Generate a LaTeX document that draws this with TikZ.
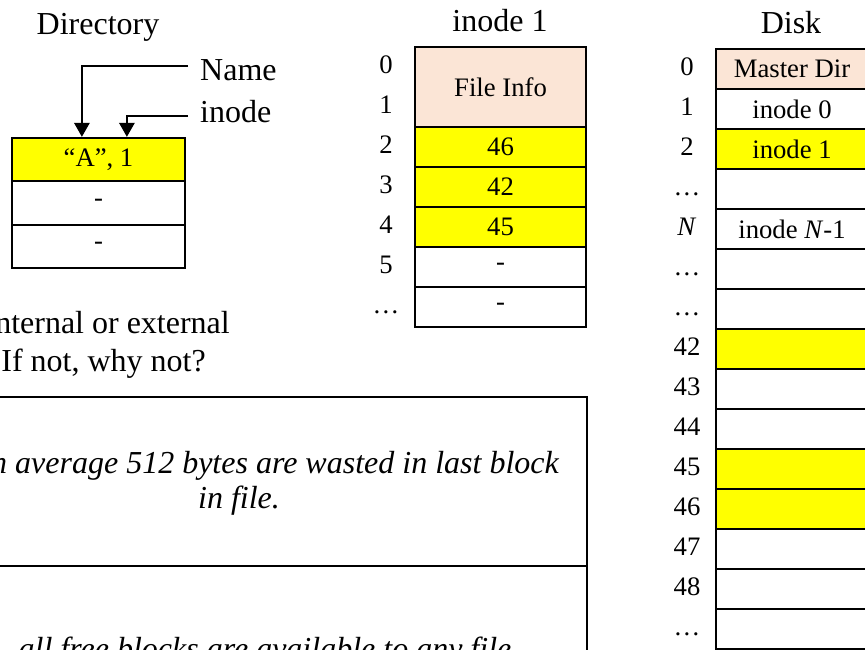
\documentclass[tikz,border=0pt]{standalone}
\usepackage{fontspec}
\setmainfont{Liberation Serif}
\usetikzlibrary{arrows.meta,calc}
\definecolor{hilite}{HTML}{FFFF00}
\definecolor{peach}{HTML}{FBE5D6}

\begin{document}
\begin{tikzpicture}[x=1pt,y=-1pt,
  big/.style={font=\fontsize{32}{38}\selectfont, inner sep=0pt},
  bigit/.style={font=\fontsize{32}{38}\selectfont\itshape, inner sep=0pt},
  idx/.style={font=\fontsize{26.7}{32}\selectfont, inner sep=0pt},
  cell/.style={draw, line width=2.2pt, inner sep=0pt,
    font=\fontsize{26.7}{32}\selectfont, minimum height=40pt},
  dircell/.style={cell, minimum width=173pt, minimum height=43.33pt},
  inocell/.style={cell, minimum width=171pt},
  diskcell/.style={cell, line width=2pt, minimum width=152pt},
  answerbox/.style={draw, line width=2pt, minimum width=647pt},
  ptr/.style={line width=2.8pt, -{Triangle[width=15pt,length=14pt]}}
]
\useasboundingbox (0,0) rectangle (865,649);
\clip (0,0) rectangle (865,649);

% ---- directory ----
\node[big, anchor=base] (dirT) at (98,34) {Directory};
\node[dircell, fill=hilite] (dirA) at (98.5,159.67) {“A”, 1};
\node[dircell] (dirB) at (98.5,203) {-};
\node[dircell] (dirC) at (98.5,246.33) {-};

\node[big, anchor=base west] (name) at (200,80) {Name};
\node[big, anchor=base west] (inodeL) at (200,122) {inode};
\coordinate (nameFrom) at (188,66);
\coordinate (inodeFrom) at (188,116);
\coordinate (nameTip) at ($(dirA.north west)+(71,0)$);
\coordinate (inodeTip) at ($(dirA.north west)+(116,0)$);
\draw[ptr] (nameFrom) -| (nameTip);
\draw[ptr] (inodeFrom) -| (inodeTip);

% ---- inode 1 ----
\node[big, anchor=base] (inoT) at (500,31) {inode 1};
\node[inocell, fill=peach, minimum height=80pt] (info) at (500.5,87) {File Info};
\foreach \v/\col [count=\i from 2] in {46/hilite,42/hilite,45/hilite,-/white,-/white}
  \node[inocell, fill=\col] (blk\i) at (500.5,147+40*\i-80) {\v};
% row numbers; the ellipsis sits lower than the digits
\foreach \lbl/\dy [count=\i from 0] in {0/0,1/0,2/0,3/0,4/0,5/0,…/7}
  \node[idx] (ilbl\i) at (386,65+40*\i+\dy) {\lbl};

% ---- disk ----
\node[big, anchor=base] (diskT) at (791,33) {Disk};
\foreach \lbl/\txt/\col/\dy [count=\i from 0] in {
  0/{Master Dir}/peach/0,
  1/{inode 0}/white/0,
  2/{inode 1}/hilite/0,
  {…}/{}/white/7,
  {\textit{N}}/{inode \textit{N}-1}/white/0,
  {…}/{}/white/7,
  {…}/{}/white/7,
  42/{}/hilite/0,
  43/{}/white/0,
  44/{}/white/0,
  45/{}/hilite/0,
  46/{}/hilite/0,
  47/{}/white/0,
  48/{}/white/0,
  {…}/{}/white/7}
{
  \node[diskcell, fill=\col] (disk\i) at (792,69+40*\i) {\txt};
  \node[idx] (dlbl\i) at (687,67+40*\i+\dy) {\lbl};
}

% ---- question and answers ----
\node[big, anchor=base east] (q1) at (230,333) {nternal or external};
\node[big, anchor=base east] (q2) at (206,371) {If not, why not?};

\node[answerbox, minimum height=169pt] (ans1) at (263.5,481.5) {};
\node[answerbox, minimum height=174pt] (ans2) at (263.5,653) {};
\node[bigit, anchor=base east] (a1) at (559,473) {n average 512 bytes are wasted in last block};
\node[bigit, anchor=base] (a2) at (239,508) {in file.};
\node[bigit, anchor=base] (a3) at (265,659) {all free blocks are available to any file};
\end{tikzpicture}
\end{document}
